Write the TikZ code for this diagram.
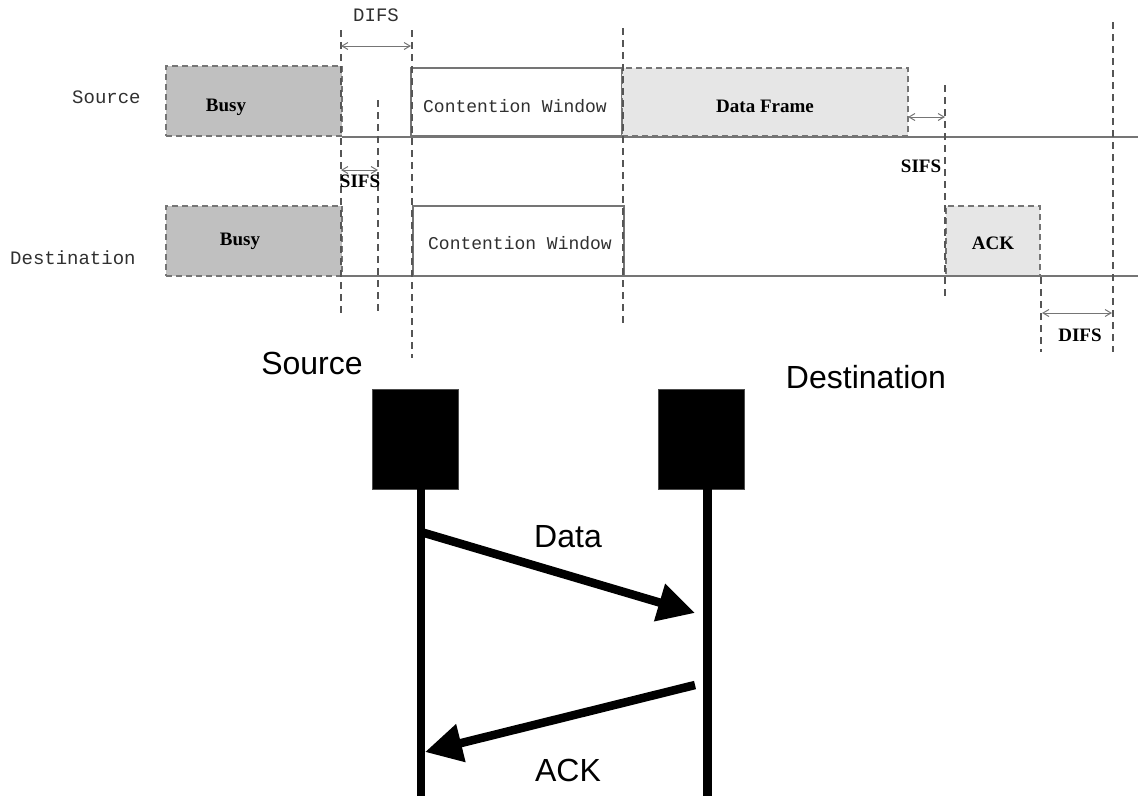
\documentclass[tikz,border=0pt]{standalone}
\usepackage{fontspec}
\setmainfont{Liberation Serif}
\newfontfamily\monof{Liberation Mono}
\newfontfamily\arialf{Liberation Sans}
\usetikzlibrary{arrows.meta}

\definecolor{busyfill}{HTML}{C0C0C0}
\definecolor{framefill}{HTML}{E6E6E6}
\definecolor{edgegray}{HTML}{757575}
\definecolor{guidegray}{HTML}{555555}
\definecolor{monotext}{HTML}{303030}

\tikzset{
  slotbox/.style={inner sep=0pt, line width=1.5pt},
  busybox/.style={slotbox, fill=busyfill, draw=edgegray, dash pattern=on 6pt off 4pt},
  framebox/.style={slotbox, fill=framefill, draw=edgegray, dash pattern=on 6pt off 4pt},
  cwbox/.style={slotbox, fill=white, draw=edgegray},
  timeline/.style={draw=edgegray, line width=1.4pt},
  guide/.style={draw=guidegray, line width=1.1pt, dash pattern=on 7pt off 5pt},
  span/.style={draw=edgegray, line width=1pt,
    {Straight Barb[length=6pt,width=7pt]}-{Straight Barb[length=6pt,width=7pt]}},
  monolabel/.style={inner sep=0pt, text=monotext, font=\monof\fontsize{19}{22}\selectfont},
  cwlabel/.style={inner sep=0pt, text=monotext, font=\monof\fontsize{18}{22}\selectfont},
  seriflabel/.style={inner sep=0pt, font=\bfseries\fontsize{19}{22}\selectfont},
  sanslabel/.style={inner sep=0pt, font=\arialf\fontsize{32}{38}\selectfont},
  station/.style={fill=black, draw=black!70, inner sep=0pt, minimum width=86pt, minimum height=100pt},
  lifeline/.style={draw=black, line width=8.5pt},
  msg/.style={draw=black, line width=8.5pt, -{Triangle[length=37pt,width=37pt]}}
}

\begin{document}
\begin{tikzpicture}[x=1pt,y=-1pt]
  \useasboundingbox (0,0) rectangle (1138,796);

  % ---------- timing diagram: station rows ----------
  \node[monolabel, anchor=west] (srcname) at (72,97) {Source};
  \node[monolabel, anchor=west] (dstname) at (10,258) {Destination};

  % source row
  \node[busybox, minimum width=176pt, minimum height=70pt] (sbusy) at (254,101) {};
  \node[cwbox, minimum width=211pt, minimum height=68pt] (scw) at (516.5,102) {};
  \node[framebox, minimum width=286pt, minimum height=68pt] (sframe) at (765,102) {};
  \coordinate (sline0) at (342,137);
  \coordinate (sline1) at (1138,137);
  \draw[timeline] (sline0) -- (sline1);

  % destination row
  \node[busybox, minimum width=176pt, minimum height=70pt] (dbusy) at (254,241) {};
  \node[cwbox, minimum width=211pt, minimum height=70pt] (dcw) at (518.5,241) {};
  \node[framebox, minimum width=94pt, minimum height=70pt] (dack) at (993,241) {};
  \coordinate (dline0) at (342,276);
  \coordinate (dline1) at (1138,276);
  \draw[timeline] (dline0) -- (dline1);

  % box captions
  \node[seriflabel] (sbusyt) at (226,107) {Busy};
  \node[seriflabel] (dbusyt) at (240,241) {Busy};
  \node[cwlabel] (scwt) at (515,106) {Contention Window};
  \node[cwlabel] (dcwt) at (520,243) {Contention Window};
  \node[seriflabel] (sframet) at (765,106) {Data Frame};
  \node[seriflabel] (dackt) at (993,243) {ACK};

  % dashed time marks
  \coordinate (g1t) at (341,30);   \coordinate (g1b) at (341,315);
  \coordinate (g2t) at (378,100);  \coordinate (g2b) at (378,315);
  \coordinate (g3t) at (412,30);   \coordinate (g3b) at (412,358);
  \coordinate (g4t) at (623,28);   \coordinate (g4b) at (623,325);
  \coordinate (g5t) at (945,85);   \coordinate (g5b) at (945,298);
  \coordinate (g6t) at (1041,277); \coordinate (g6b) at (1041,352);
  \coordinate (g7t) at (1113,22);  \coordinate (g7b) at (1113,352);
  \foreach \g in {1,...,7} \draw[guide] (g\g t) -- (g\g b);

  % interframe spaces
  \coordinate (difsA) at (341,46);  \coordinate (difsB) at (411,46);
  \draw[span] (difsA) -- (difsB);
  \node[monolabel] (difst) at (376,15) {DIFS};

  \coordinate (sifsA) at (341,170); \coordinate (sifsB) at (378,170);
  \draw[span] (sifsA) -- (sifsB);
  \node[seriflabel] (sifst) at (360,181) {SIFS};

  \coordinate (sifsC) at (908,117); \coordinate (sifsD) at (945,117);
  \draw[span] (sifsC) -- (sifsD);
  \node[seriflabel] (sifs2t) at (921,166) {SIFS};

  \coordinate (difsC) at (1042,313); \coordinate (difsD) at (1112,313);
  \draw[span] (difsC) -- (difsD);
  \node[seriflabel] (difs2t) at (1080,335) {DIFS};

  % ---------- message sequence ----------
  \node[sanslabel] (srclbl) at (312,363) {Source};
  \node[sanslabel] (dstlbl) at (866,377) {Destination};

  \node[station] (srcst) at (415,439) {};
  \node[station] (dstst) at (701,439) {};

  \coordinate (srcTop) at (421,489); \coordinate (srcBot) at (421,796);
  \coordinate (dstTop) at (707.5,489); \coordinate (dstBot) at (707.5,796);
  \draw[lifeline] (srcTop) -- (srcBot);
  \draw[lifeline] (dstTop) -- (dstBot);

  \coordinate (dataFrom) at (421,532); \coordinate (dataTo) at (695,613);
  \draw[msg] (dataFrom) -- (dataTo);
  \node[sanslabel] (datalbl) at (568,537) {Data};

  \coordinate (ackFrom) at (695,685); \coordinate (ackTo) at (425,752);
  \draw[msg] (ackFrom) -- (ackTo);
  \node[sanslabel] (acklbl) at (568,770) {ACK};
\end{tikzpicture}
\end{document}
